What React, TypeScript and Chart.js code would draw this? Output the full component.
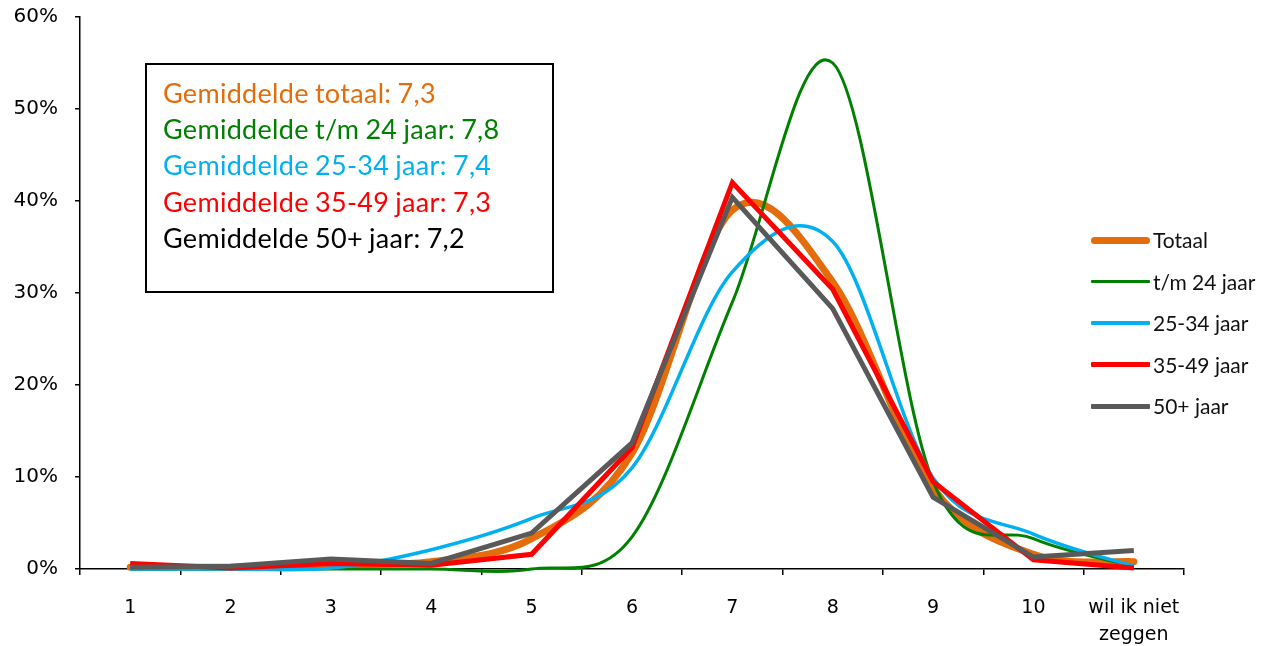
import React, { useEffect, useRef } from 'react';
import { Chart, registerables } from 'chart.js';

Chart.register(...registerables);

const categories: (string | string[])[] = ['1', '2', '3', '4', '5', '6', '7', '8', '9', '10', ['wil ik niet', 'zeggen']];
const seriesNames = ['Totaal', 't/m 24 jaar', '25-34 jaar', '35-49 jaar', '50+ jaar'];
const totaal = [0.2, 0.2, 0.5, 0.8, 3.3, 12.6, 39.0, 31.2, 8.8, 1.6, 0.8];
const tm24 = [0, 0, 0, 0, 0, 3.5, 29.0, 55.0, 9.5, 3.3, 0.3];
const j25_34 = [0, 0, 0.1, 2.1, 5.5, 11.0, 32.3, 35.6, 9.9, 3.8, 0.3];
const j35_49 = [0.6, 0.1, 0.6, 0.4, 1.6, 13.2, 42.0, 30.4, 9.5, 1.0, 0.1];
const j50plus = [0.2, 0.3, 1.1, 0.6, 3.9, 13.7, 40.4, 28.3, 7.8, 1.3, 2.0];
const yTicks = [0, 10, 20, 30, 40, 50, 60];
const averages = [
  'Gemiddelde totaal: 7,3',
  'Gemiddelde t/m 24 jaar: 7,8',
  'Gemiddelde 25-34 jaar: 7,4',
  'Gemiddelde 35-49 jaar: 7,3',
  'Gemiddelde 50+ jaar: 7,2',
];

const colors = ['#E46C0A', '#008000', '#00B0F0', '#FF0000', '#595959'];
const widths = [7, 3, 3.5, 5, 5];
const smooth = [true, true, true, false, false];
const drawOrder = [5, 4, 3, 2, 1];
const avgColors = ['#E46C0A', '#008000', '#00B0F0', '#FF0000', '#000000'];

// Excel-like smoothing: uniform Catmull-Rom control points computed from the
// library's own point positions.
const excelSmooth = {
  id: 'excelSmooth',
  beforeDatasetDraw(chart: any, args: any) {
    const ds = chart.data.datasets[args.index];
    if (!ds.smoothLine) return;
    const meta = args.meta;
    const line = meta.dataset;
    if (line && line.updateControlPoints) line.updateControlPoints(chart.chartArea, 'x');
    const pts = meta.data;
    for (let i = 0; i < pts.length; i++) {
      const p = pts[i];
      const p0 = pts[i - 1] || p;
      const p2 = pts[i + 1] || p;
      const dx = (p2.x - p0.x) / 6;
      const dy = (p2.y - p0.y) / 6;
      p.cp1x = p.x - dx;
      p.cp1y = p.y - dy;
      p.cp2x = p.x + dx;
      p.cp2y = p.y + dy;
    }
  },
};

export default function App() {
  const ref = useRef<HTMLCanvasElement | null>(null);

  useEffect(() => {
    document.body.style.margin = '0';
    const canvas = ref.current;
    if (!canvas) return;
    const seriesData = [totaal, tm24, j25_34, j35_49, j50plus];
    const chart = new Chart(canvas, {
      type: 'line',
      data: {
        labels: categories as any,
        datasets: seriesNames.map((name, i) => ({
          label: name,
          data: seriesData[i],
          borderColor: colors[i],
          backgroundColor: colors[i],
          borderWidth: widths[i],
          tension: smooth[i] ? 0.4 : 0,
          smoothLine: smooth[i],
          pointRadius: 0,
          pointHoverRadius: 0,
          fill: false,
          clip: false as any,
          order: drawOrder[i],
          borderCapStyle: i === 0 ? 'round' : 'butt',
          borderJoinStyle: i === 0 ? 'round' : 'miter',
        })) as any,
      },
      options: {
        animation: false,
        responsive: false,
        maintainAspectRatio: false,
        events: [],
        layout: { padding: { left: 0, right: 80, top: 17, bottom: 0 } },
        plugins: {
          legend: { display: false },
          tooltip: { enabled: false },
          title: { display: false },
        },
        scales: {
          x: {
            type: 'category',
            offset: true,
            grid: {
              offset: true,
              drawOnChartArea: false,
              drawTicks: true,
              tickLength: 6,
              color: '#000',
              lineWidth: 1.5,
            },
            border: { display: true, color: '#000', width: 1.5 },
            ticks: {
              color: '#000',
              padding: 20,
              maxRotation: 0,
              autoSkip: false,
              font: { family: 'DejaVu Sans', size: 19, lineHeight: 1.4 },
            },
            afterFit: (s: any) => {
              s.height = 77;
              s.paddingLeft = 0;
              s.paddingRight = 0;
            },
          },
          y: {
            min: 0,
            max: 60,
            afterBuildTicks: (s: any) => {
              s.ticks = yTicks.map((v) => ({ value: v }));
            },
            grid: {
              drawOnChartArea: false,
              drawTicks: true,
              tickLength: 5,
              color: '#000',
              lineWidth: 1.5,
            },
            border: { display: true, color: '#000', width: 1.5 },
            ticks: {
              color: '#000',
              padding: 17,
              font: { family: 'DejaVu Sans', size: 20 },
              callback: (v: any) => v + '%',
            },
            afterFit: (s: any) => {
              s.width = 80;
              s.paddingTop = 0;
              s.paddingBottom = 0;
            },
          },
        },
      },
      plugins: [excelSmooth],
    });
    return () => chart.destroy();
  }, []);

  const legendTop = 240;
  const legendStep = 41.5;

  return (
    <div style={{ position: 'fixed', left: 0, top: 0, width: 1264, height: 646, background: '#fff' }}>
      <canvas ref={ref} width={1264} height={646} style={{ position: 'absolute', left: 0, top: 0, width: 1264, height: 646 }} />
      <div
        style={{
          position: 'absolute',
          left: 145,
          top: 63,
          width: 405,
          height: 226,
          border: '2px solid #000',
          fontFamily: 'Lato, sans-serif',
          fontSize: 27,
          letterSpacing: 0.3,
          wordSpacing: -1,
        }}
      >
        {averages.map((t, i) => (
          <div
            key={i}
            style={{
              position: 'absolute',
              left: 16,
              top: 11 + i * 36.2,
              height: 34,
              lineHeight: '34px',
              color: avgColors[i],
              whiteSpace: 'nowrap',
            }}
          >
            {t}
          </div>
        ))}
      </div>
      {seriesNames.map((name, i) => (
        <div key={name}>
          <div
            style={{
              position: 'absolute',
              left: 1091,
              top: legendTop + i * legendStep - widths[i] / 2,
              width: 59,
              height: widths[i],
              background: colors[i],
              borderRadius: i === 0 ? widths[i] / 2 : 1,
            }}
          />
          <div
            style={{
              position: 'absolute',
              left: 1153,
              top: legendTop + i * legendStep - 14,
              height: 28,
              lineHeight: '28px',
              fontFamily: 'Lato, sans-serif',
              fontSize: 21,
              color: '#111',
              whiteSpace: 'nowrap',
            }}
          >
            {name}
          </div>
        </div>
      ))}
    </div>
  );
}
